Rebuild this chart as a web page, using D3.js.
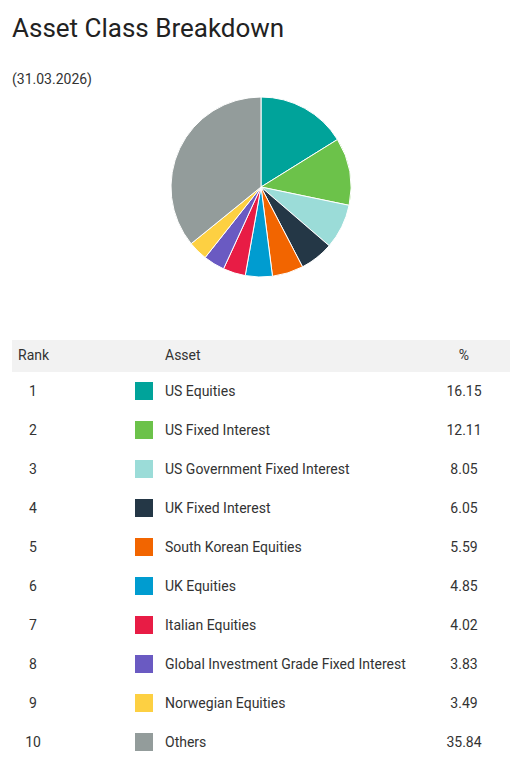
<!DOCTYPE html>
<html>
<head>
<meta charset="utf-8">
<script src="https://cdn.jsdelivr.net/npm/d3@7"></script>
<style>
  html, body { margin: 0; padding: 0; background: #fff; }
  svg { display: block; font-family: Roboto, "Noto Sans", sans-serif; }
</style>
</head>
<body>
<svg id="chart" width="529" height="774"></svg>
<script>
const title = "Asset Class Breakdown";
const dateLabel = "(31.03.2026)";
const headers = ["Rank", "Asset", "%"];
const ranks = [1, 2, 3, 4, 5, 6, 7, 8, 9, 10];
const assets = [
  "US Equities",
  "US Fixed Interest",
  "US Government Fixed Interest",
  "UK Fixed Interest",
  "South Korean Equities",
  "UK Equities",
  "Italian Equities",
  "Global Investment Grade Fixed Interest",
  "Norwegian Equities",
  "Others"
];
const values = [16.15, 12.11, 8.05, 6.05, 5.59, 4.85, 4.02, 3.83, 3.49, 35.84];
const colors = ["#00A39A", "#6CC24A", "#9BDCD8", "#243746", "#F26500", "#009CD0", "#E81C45", "#6A5AC2", "#FDD042", "#939C9B"];

const svg = d3.select("#chart");

svg.append("text")
  .attr("x", 12).attr("y", 37)
  .attr("font-size", 26)
  .attr("fill", "#222")
  .text(title);

svg.append("text")
  .attr("x", 12).attr("y", 84)
  .attr("font-size", 14)
  .attr("fill", "#333")
  .text(dateLabel);

// Pie
const data = assets.map((a, i) => ({ asset: a, value: values[i], color: colors[i] }));
const pie = d3.pie().value(d => d.value).sort(null);
const arc = d3.arc().innerRadius(0).outerRadius(90);
const g = svg.append("g").attr("transform", "translate(261,187)");
g.selectAll("path")
  .data(pie(data))
  .join("path")
  .attr("d", arc)
  .attr("fill", d => d.data.color)
  .attr("stroke", "#fff")
  .attr("stroke-width", 1)
  .attr("stroke-linejoin", "round");

// Table
const tableTop = 340;
svg.append("rect")
  .attr("x", 12).attr("y", tableTop)
  .attr("width", 498).attr("height", 32)
  .attr("fill", "#f2f2f2");

const hdr = svg.append("g").attr("font-size", 14).attr("fill", "#333");
hdr.append("text").attr("x", 18).attr("y", 360).text(headers[0]);
hdr.append("text").attr("x", 165).attr("y", 360).text(headers[1]);
hdr.append("text").attr("x", 464).attr("y", 360).attr("text-anchor", "middle").text(headers[2]);

const y = d3.scaleLinear().domain([0, 1]).range([391, 430]);

const rows = svg.append("g").attr("font-size", 14).attr("fill", "#333")
  .selectAll("g")
  .data(data)
  .join("g")
  .attr("transform", (d, i) => `translate(0,${y(i)})`);

rows.append("text").attr("x", 33).attr("y", 5).attr("text-anchor", "middle").text((d, i) => ranks[i]);
rows.append("rect").attr("x", 135).attr("y", -9).attr("width", 18).attr("height", 18).attr("fill", d => d.color);
rows.append("text").attr("x", 165).attr("y", 5).text(d => d.asset);
rows.append("text").attr("x", 464).attr("y", 5).attr("text-anchor", "middle").text(d => d.value.toFixed(2));
</script>
</body>
</html>
